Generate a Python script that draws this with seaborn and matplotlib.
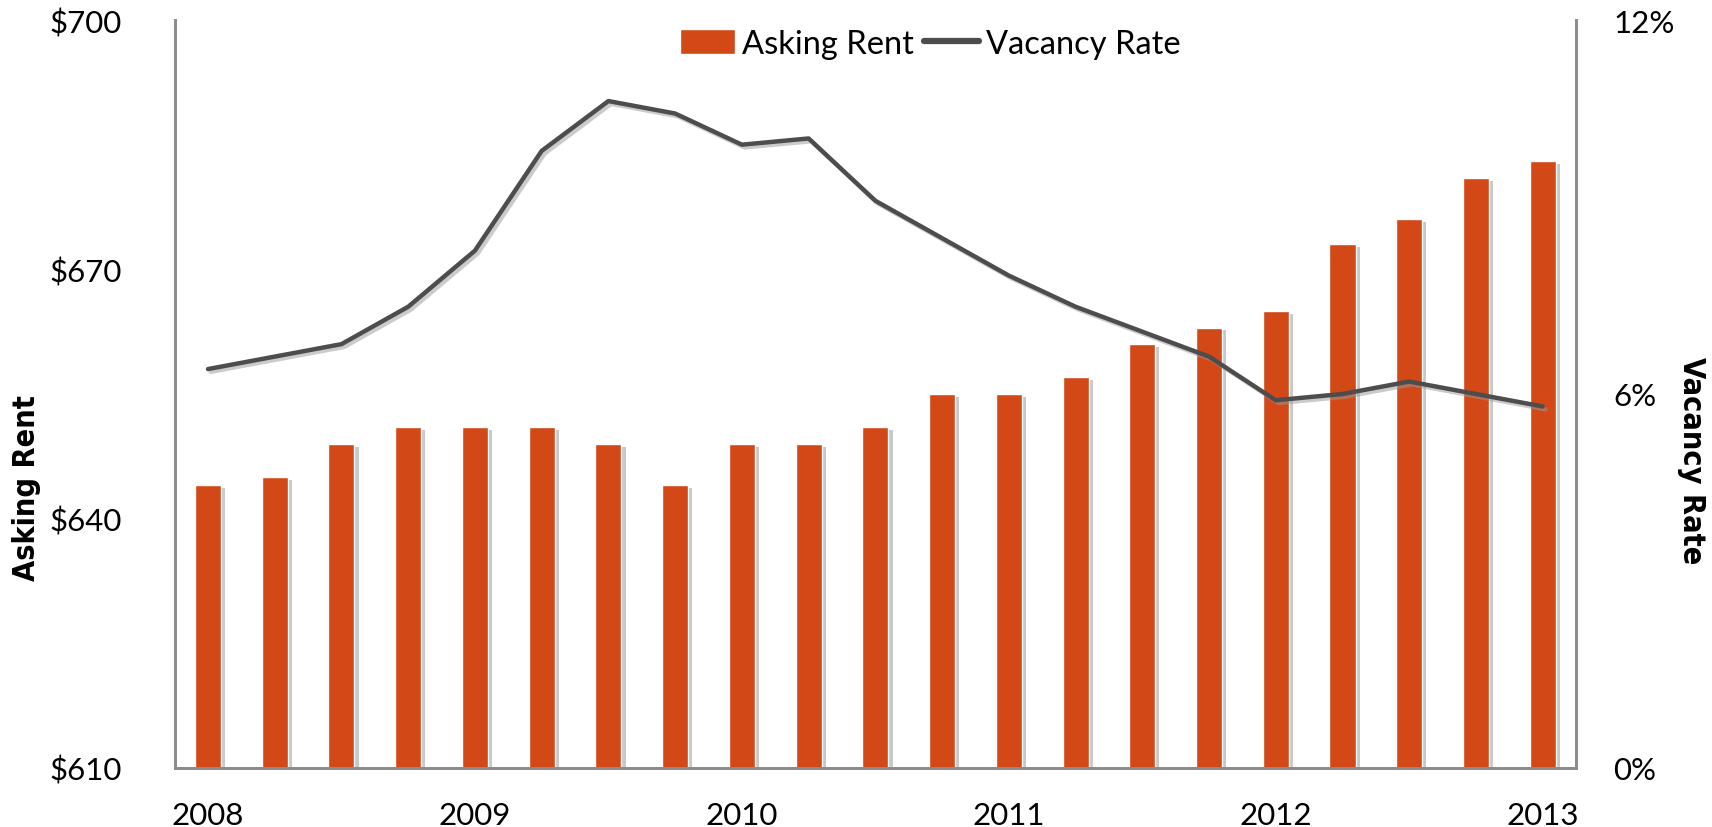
import numpy as np
import pandas as pd
import matplotlib
matplotlib.use("Agg")
import matplotlib.pyplot as plt
import matplotlib.patheffects as pe
from matplotlib.ticker import FuncFormatter
from matplotlib.patches import Patch
from matplotlib.lines import Line2D
import seaborn as sns

# quarterly data, 2008 Q1 .. 2013 Q1
quarters = [f"{y} Q{q}" for y in range(2008, 2014) for q in range(1, 5)][:21]
asking_rent = [644, 645, 649, 651, 651, 651, 649, 644, 649, 649, 651,
               655, 655, 657, 661, 663, 665, 673, 676, 681, 683]
vacancy_rate = [6.4, 6.6, 6.8, 7.4, 8.3, 9.9, 10.7, 10.5, 10.0, 10.1, 9.1,
                8.5, 7.9, 7.4, 7.0, 6.6, 5.9, 6.0, 6.2, 6.0, 5.8]
year_labels = ["2008", "2009", "2010", "2011", "2012", "2013"]

bar_color = "#D34817"
line_color = "#4D4D4D"
spine_color = "#8C8C8C"

df = pd.DataFrame({"quarter": quarters, "rent": asking_rent,
                   "vacancy": np.array(vacancy_rate) / 100, "pos": range(len(quarters))})

sns.set_style("white")
plt.rcParams["font.family"] = ["Lato", "DejaVu Sans"]
plt.rcParams["text.color"] = "black"
plt.rcParams["axes.labelcolor"] = "black"
plt.rcParams["xtick.color"] = "black"
plt.rcParams["ytick.color"] = "black"

label_font = dict(fontsize=22, fontweight="bold", family=["DejaVu Sans"], fontstretch="condensed")

fig, ax = plt.subplots(figsize=(17.12, 8.28), dpi=100)
fig.subplots_adjust(left=0.102, right=0.9206, bottom=0.0713, top=0.9746)

sns.barplot(data=df, x="quarter", y="rent", color=bar_color, width=0.39,
            saturation=1, ax=ax)
shadow = [pe.SimplePatchShadow(offset=(3, -2), shadow_rgbFace="#777777", alpha=0.4), pe.Normal()]
for p in ax.patches:
    p.set_path_effects(shadow)

ax.set_ylim(610, 700)
ax.set_yticks([610, 640, 670, 700])
ax.yaxis.set_major_formatter(FuncFormatter(lambda v, _: f"${v:.0f}"))
ax.set_xlim(-0.5, len(quarters) - 0.5)
ax.set_xticks(range(0, len(quarters), 4))
ax.set_xticklabels(year_labels)
ax.set_xlabel("")
ax.set_ylabel("Asking Rent", **label_font)
ax.yaxis.set_label_coords(-0.095, 0.376)
ax.tick_params(axis="both", labelsize=22.5, length=0)
ax.tick_params(axis="y", pad=38)
ax.tick_params(axis="x", pad=24)

ax2 = ax.twinx()
sns.lineplot(data=df, x="pos", y="vacancy", color=line_color, linewidth=3.2, ax=ax2,
             path_effects=[pe.SimpleLineShadow(offset=(2, -2), shadow_color="#999999", alpha=0.5),
                           pe.Normal()])
ax2.set_ylim(0, 0.12)
ax2.set_yticks([0, 0.06, 0.12])
ax2.yaxis.set_major_formatter(FuncFormatter(lambda v, _: f"{v * 100:.0f}%"))
ax2.set_ylabel("Vacancy Rate", rotation=270, **label_font)
ax2.yaxis.set_label_coords(1.093, 0.412)
ax2.tick_params(axis="y", labelsize=22.5, length=0, pad=27)
ax2.set_xlim(-0.5, len(quarters) - 0.5)
ax2.set_xlabel("")

for a in (ax, ax2):
    a.spines["top"].set_visible(False)
    for s in ("left", "right", "bottom"):
        a.spines[s].set_color(spine_color)
        a.spines[s].set_linewidth(2)

handles = [Patch(facecolor=bar_color, label="Asking Rent"),
           Line2D([0], [0], color=line_color, linewidth=4.5, label="Vacancy Rate",
                  solid_capstyle="round")]
ax2.legend(handles=handles, loc="upper center", bbox_to_anchor=(0.539, 1.027), ncol=2,
           frameon=False, fontsize=23.5, handlelength=1.7, handleheight=0.8,
           handletextpad=0.2, columnspacing=0.3)

fig.savefig("out.png", dpi=100)
